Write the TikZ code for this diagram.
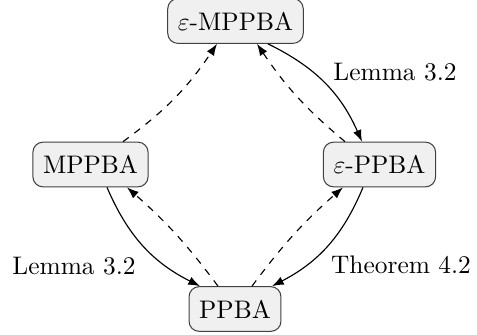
\documentclass[tikz,border=0pt]{standalone}
\usetikzlibrary{calc,arrows.meta}
\begin{document}
\begin{tikzpicture}[x=0.3937pt,y=-0.3937pt,
  box/.style={draw=black!75,fill=black!6,rounded corners=4pt,inner xsep=4pt,inner ysep=0pt,minimum height=17.6pt},
  proof/.style={-{Latex[length=4.6pt,width=3.4pt]},line width=0.45pt},
  hint/.style={-{Latex[length=4.6pt,width=3.4pt]},dash pattern=on 2.8pt off 2.8pt,line width=0.45pt},
  lbl/.style={inner sep=0pt}]
\useasboundingbox (0,0) rectangle (477,335);
\node[box] (emp) at (235.5,21) {$\varepsilon$-MPPBA};
\node[box] (mp) at (90.5,164.5) {MPPBA};
\node[box] (ep) at (379.5,164.5) {$\varepsilon$-PPBA};
\node[box] (pp) at (235,309) {PPBA};
\draw[proof] ($(emp.south)+(32.5,0)$) to[bend left=20] ($(ep.north)+(-17.5,0)$);
\draw[hint] ($(ep.north)+(-34.5,0)$) to[bend left=8] ($(emp.south)+(21.5,0)$);
\draw[hint] ($(mp.north)+(32.5,0)$) to[bend right=10] ($(emp.south)+(-18.5,0)$);
\draw[proof] ($(mp.south)+(16.5,0)$) to[bend right=20] ($(pp.north)+(-35,0)$);
\draw[hint] ($(pp.north)+(-17,0)$) to[bend right=6] ($(mp.south)+(36.5,0)$);
\draw[hint] ($(pp.north)+(17,0)$) to[bend left=6] ($(ep.south)+(-36.5,0)$);
\draw[proof] ($(ep.south)+(-16.5,0)$) to[bend left=20] ($(pp.north)+(37,0)$);
\node[lbl] (l1) at (395,72) {Lemma 3.2};
\node[lbl] (l2) at (74,266) {Lemma 3.2};
\node[lbl] (l3) at (401,265) {Theorem 4.2};
\end{tikzpicture}
\end{document}
